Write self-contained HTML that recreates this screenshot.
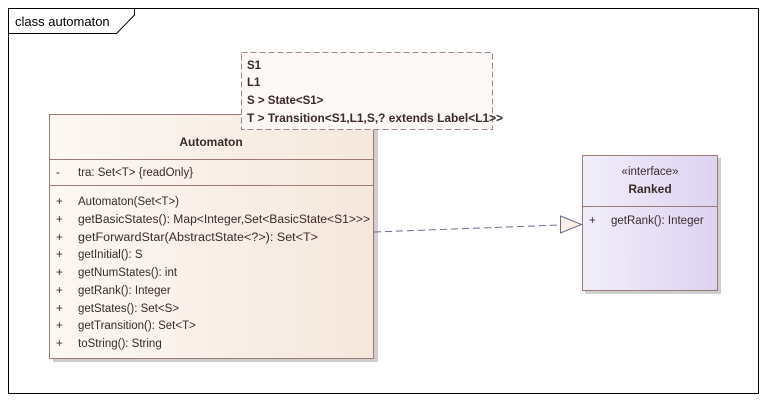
<!DOCTYPE html>
<html><head><meta charset="utf-8"><style>
html,body{margin:0;padding:0;background:#fff;}
svg{display:block;}
text{font-family:"Liberation Sans",sans-serif;font-size:11.5px;fill:#3a2a2a;}
</style></head><body>
<svg width="767" height="402" viewBox="0 0 767 402" xmlns="http://www.w3.org/2000/svg">
<defs>
<linearGradient id="ga" x1="0" y1="0" x2="1" y2="0"><stop offset="0" stop-color="#fcf8f4"/><stop offset="1" stop-color="#f5e7dc"/></linearGradient>
<linearGradient id="gr" x1="0" y1="0" x2="1" y2="0"><stop offset="0" stop-color="#f1eefb"/><stop offset="1" stop-color="#ddd3f0"/></linearGradient>
</defs>
<rect x="8.5" y="8.5" width="750" height="385" fill="none" stroke="#000" stroke-width="1"/>
<path d="M8.5 33.5 H116.5 L134.5 15 V8.5" fill="none" stroke="#000"/>
<text x="15" y="26" style="font-size:13px;fill:#000">class automaton</text>

<!-- Automaton -->
<rect x="53" y="118" width="325" height="244" fill="#cfcfcf"/>
<rect x="49.5" y="114.5" width="324" height="244" fill="url(#ga)" stroke="#9a7a72"/>
<line x1="49.5" y1="159.5" x2="373.5" y2="159.5" stroke="#9a7a72"/>
<line x1="49.5" y1="185.5" x2="373.5" y2="185.5" stroke="#9a7a72"/>
<text x="211" y="146" text-anchor="middle" style="font-weight:bold;font-size:12px">Automaton</text>
<text x="56" y="176">-</text><text x="78" y="176">tra: Set&lt;T&gt; {readOnly}</text>
<g>
<text x="56" y="205">+</text><text x="78" y="205">Automaton(Set&lt;T&gt;)</text>
<text x="56" y="223">+</text><text x="78" y="223" textLength="292" lengthAdjust="spacingAndGlyphs">getBasicStates(): Map&lt;Integer,Set&lt;BasicState&lt;S1&gt;&gt;&gt;</text>
<text x="56" y="241">+</text><text x="78" y="241" textLength="240" lengthAdjust="spacingAndGlyphs">getForwardStar(AbstractState&lt;?&gt;): Set&lt;T&gt;</text>
<text x="56" y="258">+</text><text x="78" y="258">getInitial(): S</text>
<text x="56" y="276">+</text><text x="78" y="276">getNumStates(): int</text>
<text x="56" y="294">+</text><text x="78" y="294">getRank(): Integer</text>
<text x="56" y="312">+</text><text x="78" y="312">getStates(): Set&lt;S&gt;</text>
<text x="56" y="329">+</text><text x="78" y="329">getTransition(): Set&lt;T&gt;</text>
<text x="56" y="347">+</text><text x="78" y="347">toString(): String</text>
</g>

<!-- note (on top) -->
<rect x="241.5" y="52.5" width="251" height="77" fill="#fcf8f5" stroke="#9a8a8a" stroke-dasharray="6,3"/>
<g style="font-weight:bold">
<text x="247" y="69">S1</text>
<text x="247" y="86">L1</text>
<text x="247" y="104">S &gt; State&lt;S1&gt;</text>
<text x="247" y="122" textLength="256" lengthAdjust="spacingAndGlyphs">T &gt; Transition&lt;S1,L1,S,? extends Label&lt;L1&gt;&gt;</text>
</g>

<!-- connector -->
<line x1="374" y1="232" x2="560" y2="225" stroke="#6a7088" stroke-dasharray="7,4"/>
<path d="M560.5 216 L581.5 224.5 L560.5 233 Z" fill="#faeee6" stroke="#6a7088"/>

<!-- Ranked -->
<rect x="585" y="158" width="136" height="136" fill="#cfcfcf"/>
<rect x="582.5" y="155.5" width="135" height="135" fill="url(#gr)" stroke="#9a7a72"/>
<line x1="582.5" y1="206.5" x2="717.5" y2="206.5" stroke="#9a7a72"/>
<text x="650" y="175" text-anchor="middle">«interface»</text>
<text x="650" y="193" text-anchor="middle" style="font-weight:bold;font-size:12px">Ranked</text>
<text x="589" y="224">+</text><text x="611" y="224">getRank(): Integer</text>
</svg>
</body></html>
